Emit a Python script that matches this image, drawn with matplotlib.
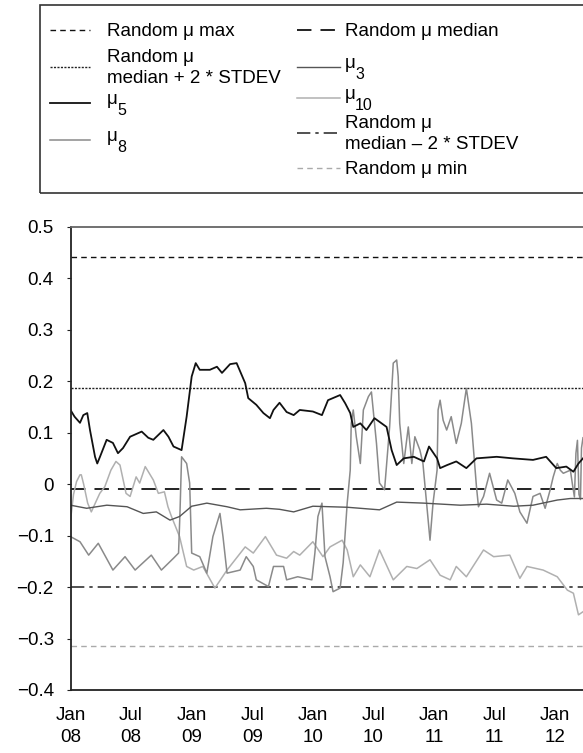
import numpy as np
import matplotlib.pyplot as plt
from matplotlib.lines import Line2D
from matplotlib.patches import Rectangle

plt.rcParams['font.family'] = ['Liberation Sans', 'DejaVu Sans']
plt.rcParams['font.size'] = 13.5

# months since Jan 2008 and values
mu5_m = [0, 0.4, 0.94, 1.27, 1.66, 1.93, 2.43, 2.65, 2.92, 3.58, 4.2, 4.7, 5.2, 5.9, 7.05, 7.7, 8.2, 9.2, 9.7,
         10.2, 11.0, 11.5, 12.0, 12.4, 12.8, 13.8, 14.5, 15.0, 15.8, 16.45, 17.3, 17.6, 18.4, 19.1, 19.75, 20.1,
         20.7, 21.4, 22.1, 22.7, 24.0, 24.9, 25.5, 26.7, 27.2, 27.7, 28.0, 28.7, 29.3, 30.1, 31.3, 31.8, 32.3,
         33.0, 34.0, 35.0, 35.5, 36.3, 36.6, 37.3, 38.2, 39.2, 40.2, 42.2, 43.8, 45.8, 47.1, 48.1, 49.1, 49.8,
         50.3, 50.75]
mu5_v = [0.144, 0.131, 0.119, 0.134, 0.138, 0.105, 0.053, 0.040, 0.053, 0.086, 0.080, 0.060, 0.070, 0.092, 0.102,
         0.090, 0.086, 0.105, 0.092, 0.073, 0.066, 0.131, 0.209, 0.235, 0.222, 0.222, 0.228, 0.216, 0.233, 0.235,
         0.196, 0.167, 0.154, 0.138, 0.128, 0.144, 0.158, 0.140, 0.134, 0.144, 0.141, 0.134, 0.163, 0.173, 0.157,
         0.138, 0.111, 0.118, 0.105, 0.128, 0.111, 0.066, 0.037, 0.050, 0.053, 0.044, 0.073, 0.050, 0.031, 0.037,
         0.044, 0.031, 0.050, 0.053, 0.050, 0.047, 0.053, 0.031, 0.034, 0.024, 0.040, 0.050]

mu3_m = [0, 1.6, 3.6, 5.6, 7.2, 8.5, 9.85, 10.8, 12.0, 13.5, 15.5, 16.8, 19.4, 20.7, 22.1, 24.0, 27.4, 30.6,
         32.3, 35.0, 38.6, 41.2, 43.9, 45.8, 48.2, 49.5, 50.75]
mu3_v = [-0.041, -0.047, -0.041, -0.044, -0.057, -0.054, -0.070, -0.063, -0.043, -0.037, -0.044, -0.050, -0.047,
         -0.049, -0.054, -0.043, -0.045, -0.050, -0.035, -0.037, -0.041, -0.039, -0.043, -0.041, -0.031, -0.028,
         -0.028]

mu10_m = [0, 0.3, 0.6, 0.94, 1.07, 1.3, 1.7, 2.06, 2.5, 2.9, 3.4, 4.0, 4.5, 4.9, 5.5, 5.9, 6.5, 6.85, 7.4, 8.2,
          8.7, 9.3, 9.65, 10.0, 10.8, 11.5, 12.2, 13.1, 14.3, 15.5, 17.3, 18.1, 19.3, 20.4, 21.4, 22.1, 22.7,
          24.0, 25.0, 25.7, 26.9, 27.4, 28.0, 28.7, 29.65, 30.6, 31.96, 33.3, 34.3, 35.6, 36.6, 37.6, 38.2, 39.2,
          40.9, 41.9, 43.5, 44.5, 45.2, 46.8, 48.2, 49.2, 49.8, 50.3, 50.75]
mu10_v = [-0.070, -0.020, 0.005, 0.018, 0.018, 0.000, -0.037, -0.054, -0.035, -0.018, -0.005, 0.027, 0.044,
          0.037, -0.018, -0.024, 0.014, 0.002, 0.034, 0.008, -0.018, -0.015, -0.044, -0.063, -0.102, -0.160,
          -0.167, -0.160, -0.202, -0.167, -0.122, -0.134, -0.102, -0.138, -0.144, -0.131, -0.138, -0.112, -0.141,
          -0.122, -0.109, -0.128, -0.180, -0.157, -0.180, -0.128, -0.186, -0.160, -0.164, -0.147, -0.177, -0.186,
          -0.160, -0.180, -0.128, -0.141, -0.138, -0.183, -0.160, -0.167, -0.180, -0.206, -0.212, -0.254, -0.248]

mu8_m = [0, 0.94, 1.8, 2.75, 4.2, 5.4, 6.4, 8.0, 9.0, 10.2, 10.7, 10.85, 11.0, 11.5, 11.8, 12.0, 12.8, 13.5,
         14.1, 14.8, 15.1, 15.5, 16.8, 17.4, 18.1, 18.4, 19.6, 20.1, 21.1, 21.4, 22.5, 23.9, 24.2, 24.5, 24.9,
         25.2, 25.7, 26.0, 26.7, 27.0, 27.4, 27.7, 27.8, 28.0, 28.3, 28.7, 29.0, 29.5, 29.8, 30.3, 30.6, 31.1,
         31.6, 31.96, 32.3, 32.45, 32.6, 33.0, 33.45, 33.8, 34.1, 34.6, 34.9, 35.6, 35.9, 36.3, 36.4, 36.6, 36.9,
         37.25, 37.7, 38.2, 38.7, 39.2, 39.7, 40.2, 40.4, 40.9, 41.5, 42.2, 42.7, 43.3, 44.0, 44.5, 45.2, 45.8,
         46.5, 47.0, 47.5, 47.8, 48.2, 48.5, 48.8, 49.5, 49.7, 49.9, 50.05, 50.2, 50.35, 50.5, 50.6, 50.75]
mu8_v = [-0.102, -0.112, -0.138, -0.115, -0.167, -0.141, -0.167, -0.138, -0.167, -0.144, -0.134, -0.050, 0.053,
         0.040, 0.002, -0.134, -0.141, -0.173, -0.102, -0.057, -0.102, -0.173, -0.167, -0.141, -0.160, -0.186,
         -0.199, -0.160, -0.160, -0.186, -0.180, -0.186, -0.134, -0.063, -0.037, -0.141, -0.180, -0.209, -0.202,
         -0.153, -0.037, 0.027, 0.118, 0.144, 0.092, 0.040, 0.144, 0.170, 0.179, 0.079, 0.002, -0.011, 0.111,
         0.235, 0.241, 0.209, 0.118, 0.040, 0.111, 0.040, 0.092, 0.066, 0.040, -0.109, -0.037, 0.027, 0.144,
         0.163, 0.124, 0.105, 0.131, 0.079, 0.118, 0.186, 0.118, -0.005, -0.044, -0.024, 0.021, -0.031, -0.037,
         0.008, -0.018, -0.054, -0.076, -0.024, -0.018, -0.047, -0.011, 0.014, 0.040, 0.027, 0.021, 0.027, 0.000,
         -0.025, 0.060, 0.085, -0.020, -0.030, 0.070, 0.090]

rand_max = 0.442
rand_plus2sd = 0.186
rand_median = -0.010
rand_minus2sd = -0.199
rand_min = -0.314

xtick_pos = [0, 6, 12, 18, 24, 30, 36, 42, 48]
xtick_lab = ['Jan\n08', 'Jul\n08', 'Jan\n09', 'Jul\n09', 'Jan\n10', 'Jul\n10', 'Jan\n11', 'Jul\n11', 'Jan\n12']
ytick_pos = [0.5, 0.4, 0.3, 0.2, 0.1, 0, -0.1, -0.2, -0.3, -0.4]
ytick_lab = ['0.5', '0.4', '0.3', '0.2', '0.1', '0', '\u22120.1', '\u22120.2', '\u22120.3', '\u22120.4']

W, H = 583, 753
fig = plt.figure(figsize=(W / 100, H / 100), dpi=100)
ax = fig.add_axes([70.5 / W, 1 - 690 / H, 1 - 70.5 / W, (690 - 226.7) / H])

# styles
s_max = dict(color='#111111', lw=1.0, dashes=(4, 3))
s_p2 = dict(color='#222222', lw=1.0, dashes=(1.5, 1))
s_med = dict(color='#111111', lw=1.3, dashes=(8, 5))
s_m2 = dict(color='#333333', lw=1.2, dashes=(8, 3, 2, 3))
s_min = dict(color='#aaaaaa', lw=1.0, dashes=(4, 3))
s5 = dict(color='#111111', lw=1.3)
s3 = dict(color='#555555', lw=1.0)
s8 = dict(color='#8a8a8a', lw=1.1)
s10 = dict(color='#b0b0b0', lw=1.1)

for val, st in [(rand_max, s_max), (rand_plus2sd, s_p2), (rand_median, s_med),
                (rand_minus2sd, s_m2), (rand_min, s_min)]:
    ax.axhline(val, **st)

ax.plot(mu10_m, mu10_v, **s10)
ax.plot(mu8_m, mu8_v, **s8)
ax.plot(mu3_m, mu3_v, **s3)
ax.plot(mu5_m, mu5_v, **s5)

ax.set_xlim(0, 50.75)
ax.set_ylim(-0.4, 0.5)
ax.set_xticks(xtick_pos)
ax.set_xticklabels(xtick_lab, linespacing=1.4)
ax.set_yticks(ytick_pos)
ax.set_yticklabels(ytick_lab)
ax.tick_params(axis='x', length=0, pad=12)
ax.tick_params(axis='y', length=3, direction='out', pad=9, color='#222222')
ax.spines['right'].set_visible(False)
ax.spines['top'].set_color('#666666')
ax.spines['top'].set_linewidth(1.3)
for s in ['left', 'bottom']:
    ax.spines[s].set_color('#222222')
    ax.spines[s].set_linewidth(1.3)


# hand-made legend, positions in pixels
def fx(px):
    return px / W


def fy(py):
    return 1 - py / H


fig.add_artist(Rectangle((fx(40), fy(193)), fx(600) - fx(40), fy(5) - fy(193), transform=fig.transFigure,
                         fill=False, edgecolor='#333333', lw=1.2))

# (line x0, x1, line y, text x, label, subscript, style)
entries = [
    (50, 90, 30, 107, 'Random \u03bc max', None, s_max),
    (50, 90, 67, 107, 'Random \u03bc\nmedian + 2 * STDEV', None, s_p2),
    (50, 90, 103, 107, '\u03bc', '5', s5),
    (50, 90, 140, 107, '\u03bc', '8', s8),
    (297, 340, 30, 345, 'Random \u03bc median', None, s_med),
    (297, 340, 67, 345, '\u03bc', '3', s3),
    (297, 340, 98, 345, '\u03bc', '10', s10),
    (297, 340, 133, 345, 'Random \u03bc\nmedian \u2013 2 * STDEV', None, s_m2),
    (297, 340, 168, 345, 'Random \u03bc min', None, s_min),
]
for x0, x1, ly, tx, label, sub, st in entries:
    fig.add_artist(Line2D([fx(x0), fx(x1)], [fy(ly), fy(ly)], transform=fig.transFigure, **st))
    if sub is None:
        fig.text(fx(tx), fy(ly + 1), label, ha='left', va='center', fontsize=13.5, linespacing=1.3)
    else:
        fig.text(fx(tx), fy(ly + 1), label, ha='left', va='baseline', fontsize=13.5)
        fig.text(fx(tx + 10), fy(ly + 12), sub, ha='left', va='baseline', fontsize=11.5)

fig.savefig('out.png', dpi=100)
